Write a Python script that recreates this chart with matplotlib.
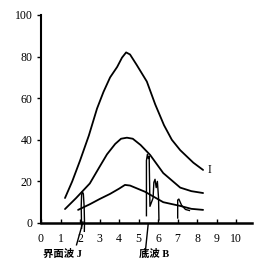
import numpy as np
from matplotlib import pyplot as plt

# curves
curve_top_x = [1.23, 1.6, 2.0, 2.45, 2.87, 3.2, 3.54, 3.9, 4.15, 4.36, 4.56, 4.9, 5.42, 5.85, 6.3, 6.7, 7.13, 7.8, 8.3]
curve_top_y = [12, 20, 30, 42, 55, 63, 70, 75, 79.5, 82, 81, 76, 68, 57, 47, 40, 35, 29, 25.5]
curve_mid_x = [1.23, 1.8, 2.5, 3.0, 3.38, 3.8, 4.1, 4.4, 4.7, 5.1, 5.59, 6.26, 7.13, 7.7, 8.3]
curve_mid_y = [6.7, 12, 19, 27, 33, 38, 40.5, 41, 40.5, 37.5, 32.7, 24, 17, 15.3, 14.4]
curve_low_x = [1.9, 2.5, 3.0, 3.54, 4.0, 4.3, 4.56, 5.33, 6.26, 7.13, 7.7, 8.3]
curve_low_y = [6.3, 9, 11.5, 14, 16.5, 18.3, 18, 15, 10, 8.2, 6.8, 6.3]

# echo traces
echo_j_x = [2.08, 2.06, 2.08, 2.12, 2.17, 2.21, 2.23, 2.22]
echo_j_y = [-2.5, 8, 13.5, 15, 14, 8, 0, -4]
echo_b_x = [5.40, 5.40, 5.45, 5.50, 5.54, 5.58, 5.74, 5.78, 5.84, 5.90, 5.96, 6.02, 6.04]
echo_b_y = [3.5, 30, 33, 31, 32, 8, 12, 19.5, 21, 17, 20, 12, 1.5]
echo_3_x = [7.0, 7.0, 7.06, 7.2, 7.4, 7.6]
echo_3_y = [2.4, 11, 11.5, 8.5, 6.5, 6]

# pointer lines to the labels
ptr_j_x = [2.15, 1.82]
ptr_j_y = [0.5, -10.5]
ptr_b_x = [5.49, 5.33]
ptr_b_y = [-0.5, -15]

xticks = list(range(0, 11))
yticks = [0, 20, 40, 60, 80, 100]

plt.rcParams['font.family'] = ['Liberation Serif', 'Noto Sans CJK SC']

fig = plt.figure(figsize=(2.75, 2.77), dpi=100)
ax = fig.add_axes([0.149, 0.195, 0.767, 0.751])

for xs, ys in [(curve_top_x, curve_top_y), (curve_mid_x, curve_mid_y), (curve_low_x, curve_low_y)]:
    ax.plot(xs, ys, color='black', lw=1.3, solid_capstyle='round', solid_joinstyle='round')
for xs, ys in [(echo_j_x, echo_j_y), (echo_b_x, echo_b_y), (echo_3_x, echo_3_y)]:
    ax.plot(xs, ys, color='black', lw=1.0, clip_on=False)
for xs, ys in [(ptr_j_x, ptr_j_y), (ptr_b_x, ptr_b_y)]:
    ax.plot(xs, ys, color='black', lw=1.0, clip_on=False)

ax.text(8.55, 25.5, 'I', fontsize=8.5, va='center', ha='left')
ax.text(1.12, -14.8, '界面波 J', fontsize=7.5, fontweight='bold', ha='center', va='center')
ax.text(5.8, -14.8, '底波 B', fontsize=7.5, fontweight='bold', ha='center', va='center')

ax.set_xlim(0, 10.8)
ax.set_ylim(0, 100)
ax.set_xticks(xticks)
ax.set_yticks(yticks)
ax.spines['top'].set_visible(False)
ax.spines['right'].set_visible(False)
ax.spines['left'].set_linewidth(1.5)
ax.spines['bottom'].set_linewidth(1.8)
ax.tick_params(axis='x', direction='in', length=3, width=1, labelsize=8.5, pad=7)
ax.tick_params(axis='y', direction='out', length=3, width=1, labelsize=8.5, pad=3)

fig.savefig('out.png', dpi=100)
